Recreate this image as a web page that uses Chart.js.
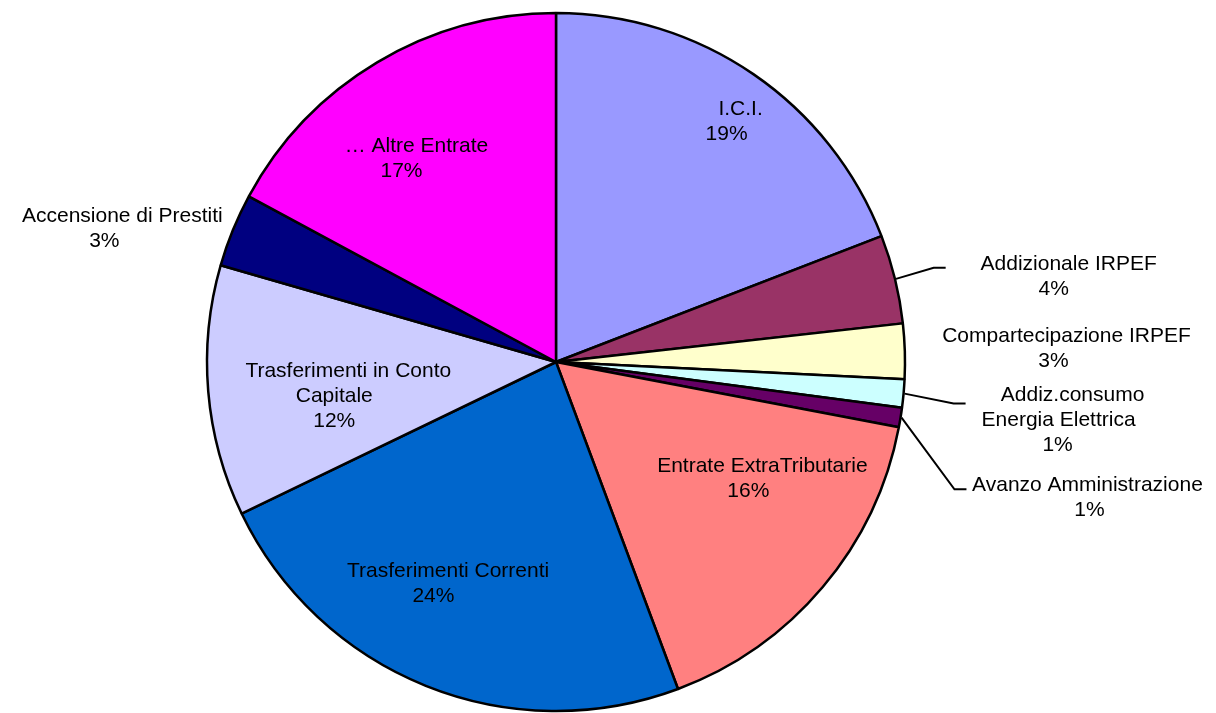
<!DOCTYPE html>
<html>
<head>
<meta charset="utf-8">
<script src="https://cdn.jsdelivr.net/npm/chart.js@4/dist/chart.umd.min.js"></script>
<style>
  html, body { margin: 0; padding: 0; background: #fff; }
  #chart { display: block; }
</style>
</head>
<body>
<canvas id="chart" width="1216" height="713"></canvas>
<script>
/* Entrate - ripartizione percentuale */

const categories = [
  'I.C.I.',
  'Addizionale IRPEF',
  'Compartecipazione IRPEF',
  ['Addiz.consumo', 'Energia Elettrica'],
  'Avanzo Amministrazione',
  'Entrate ExtraTributarie',
  'Trasferimenti Correnti',
  ['Trasferimenti in Conto', 'Capitale'],
  'Accensione di Prestiti',
  '\u2026 Altre Entrate',
];

const shares = [19.1, 4.1, 2.55, 1.3, 0.9, 16.3, 23.5, 11.6, 3.4, 17.1];

const sliceColors = [
  '#9999FF', '#993366', '#FFFFCC', '#CCFFFF', '#660066',
  '#FF8080', '#0066CC', '#CCCCFF', '#000080', '#FF00FF',
];

// label spot per slice: angle nudge (deg) from the slice middle, radius factor,
// x shift of the name lines against the % line, optional leader end (from label)
const labelPlacement = [
  { da: 0.9, rf: 0.845, nameDx: [14] },
  { da: 3.97, rf: 1.447, nameDx: [15], leader: [-108, -8.5] },
  { da: 0.28, rf: 1.426, nameDx: [13] },
  { da: 1.48, rf: 1.447, nameDx: [15, 1], leader: [-92, -17] },
  { da: 5.09, rf: 1.577, nameDx: [-2], leader: [-123, -8] },
  { da: -8.87, rf: 0.645, nameDx: [14] },
  { da: 6.98, rf: 0.727, nameDx: [14.6] },
  { da: -4.05, rf: 0.643, nameDx: [14, 0] },
  { da: -5.83, rf: 1.349, nameDx: [18] },
  { da: -6.44, rf: 0.731, nameDx: [15] },
];

const LINE_H = 25;

const sliceLabels = {
  id: 'sliceLabels',
  afterDatasetsDraw(chart) {
    const ctx = chart.ctx;
    const meta = chart.getDatasetMeta(0);
    const total = shares.reduce((a, b) => a + b, 0);
    ctx.save();
    ctx.font = '21px "Liberation Sans", Arial, sans-serif';
    ctx.fillStyle = '#000';
    ctx.strokeStyle = '#000';
    ctx.lineWidth = 2;
    ctx.textAlign = 'center';
    ctx.textBaseline = 'middle';
    meta.data.forEach((arc, i) => {
      const p = labelPlacement[i];
      const mid = (arc.startAngle + arc.endAngle) / 2;
      const a = mid + p.da * Math.PI / 180;
      const r = arc.outerRadius * p.rf;
      const x = arc.x + Math.cos(a) * r;
      const y = arc.y + Math.sin(a) * r;
      const name = [].concat(categories[i]);
      const lines = name.concat(Math.round(shares[i] / total * 100) + '%');
      const top = y - (lines.length - 1) * LINE_H / 2;
      lines.forEach((t, k) => {
        const dx = k < name.length ? (p.nameDx[k] || 0) : 0;
        ctx.fillText(t, x + dx, top + k * LINE_H);
      });
      if (p.leader) {
        const ex = x + p.leader[0];
        const ey = y + p.leader[1];
        const r0 = arc.outerRadius + 1;
        ctx.beginPath();
        ctx.moveTo(arc.x + Math.cos(mid) * r0, arc.y + Math.sin(mid) * r0);
        ctx.lineTo(ex - 12, ey);
        ctx.lineTo(ex, ey);
        ctx.stroke();
      }
    });
    ctx.restore();
  },
};

new Chart(document.getElementById('chart'), {
  type: 'pie',
  data: {
    labels: categories,
    datasets: [{
      data: shares,
      backgroundColor: sliceColors,
      borderColor: '#000',
      borderWidth: 2.5,
    }],
  },
  options: {
    responsive: false,
    animation: false,
    radius: 349,
    layout: { padding: { top: 12, bottom: 1, left: 0, right: 104 } },
    plugins: {
      legend: { display: false },
      tooltip: { enabled: false },
    },
  },
  plugins: [sliceLabels],
});
</script>
</body>
</html>
